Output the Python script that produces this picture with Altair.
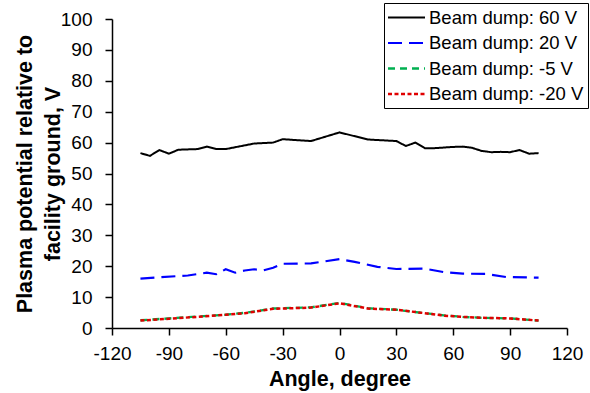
import altair as alt
import pandas as pd

series_names = ["Beam dump: 60 V", "Beam dump: 20 V", "Beam dump: -5 V", "Beam dump: -20 V"]

ang_60 = [-105, -100, -95, -90, -85, -75, -70, -65, -60, -50, -45, -35, -30, -15, 0, 15, 30, 35, 40, 45, 50, 60, 65, 70, 75, 80, 85, 90, 95, 100, 105]
v_60 = [56.6, 55.7, 57.6, 56.4, 57.7, 57.9, 58.7, 57.9, 57.9, 59.1, 59.7, 60.0, 61.1, 60.5, 63.3, 61.0, 60.5, 58.9, 60.0, 58.2, 58.2, 58.6, 58.7, 58.3, 57.3, 56.9, 57.0, 56.9, 57.6, 56.4, 56.6]

ang_20 = [-105, -95, -80, -70, -65, -60, -55, -50, -45, -40, -35, -30, -15, 0, 8, 20, 30, 45, 55, 65, 77, 88, 105]
v_20 = [16.0, 16.4, 17.0, 17.9, 17.4, 19.0, 17.9, 18.6, 19.0, 18.7, 19.5, 20.8, 20.9, 22.3, 21.4, 19.8, 19.1, 19.2, 18.1, 17.6, 17.5, 16.5, 16.3]

ang_m5 = [-105, -90, -75, -60, -50, -35, -15, 0, 15, 30, 45, 55, 65, 75, 90, 105]
v_m5 = [2.5, 3.1, 3.7, 4.3, 4.9, 6.3, 6.7, 8.1, 6.4, 5.9, 4.8, 4.1, 3.6, 3.3, 3.1, 2.4]

ang_m20 = [-105, -90, -75, -60, -50, -35, -15, 0, 15, 30, 45, 55, 65, 75, 90, 105]
v_m20 = [2.4, 3.0, 3.6, 4.3, 4.8, 6.2, 6.6, 8.0, 6.3, 5.9, 4.8, 4.0, 3.6, 3.3, 3.1, 2.4]

x_ticks = [-120, -90, -60, -30, 0, 30, 60, 90, 120]
y_ticks = [0, 10, 20, 30, 40, 50, 60, 70, 80, 90, 100]

rows = []
for name, angs, vals in zip(series_names, [ang_60, ang_20, ang_m5, ang_m20], [v_60, v_20, v_m5, v_m20]):
    for a, v in zip(angs, vals):
        rows.append({"series": name, "angle": a, "V": v})
df = pd.DataFrame(rows)

colors = ["#000000", "#0000FF", "#00B050", "#E00000"]
dashes = [[1, 0], [14, 7], [7, 5], [4, 2.5]]
widths = [2, 2.5, 2.5, 2.5]

font = "Liberation Sans"

chart = alt.Chart(df).mark_line().encode(
    x=alt.X("angle:Q",
            scale=alt.Scale(domain=[-120, 120], nice=False, zero=False),
            axis=alt.Axis(values=x_ticks, title="Angle, degree", labelExpr="'' + datum.value",
                          labelFlush=False, labelOverlap=False,
                          grid=False, tickSize=7, labelPadding=9, titlePadding=5)),
    y=alt.Y("V:Q",
            scale=alt.Scale(domain=[0, 100], nice=False),
            axis=alt.Axis(values=y_ticks,
                          title=["Plasma potential relative to", "facility ground, V"],
                          labelFlush=False, labelOverlap=False,
                          grid=False, tickSize=7, labelPadding=13, titlePadding=-4,
                          titleLineHeight=28)),
    color=alt.Color("series:N", scale=alt.Scale(domain=series_names, range=colors),
                    sort=series_names,
                    legend=alt.Legend(title=None, orient="none", legendX=272, legendY=-16,
                                      symbolType="M-2,0H2", symbolSize=342, symbolStrokeWidth=2.2,
                                      symbolOffset=8, labelOffset=12,
                                      labelFontSize=18.5, labelFont=font, labelColor="#000000",
                                      strokeColor="#000000", padding=4, rowPadding=5.5,
                                      labelLimit=300)),
    strokeDash=alt.StrokeDash("series:N", scale=alt.Scale(domain=series_names, range=dashes),
                              sort=series_names, legend=None),
    strokeWidth=alt.StrokeWidth("series:N", scale=alt.Scale(domain=series_names, range=widths),
                                sort=series_names, legend=None),
    order=alt.Order("angle:Q"),
).properties(
    width=455, height=309,
    autosize=alt.AutoSizeParams(type="none"),
    padding={"left": 112, "top": 19, "right": 23, "bottom": 65},
).configure_axis(
    domainColor="#000000", domainWidth=1.5, tickColor="#000000", tickWidth=1.5,
    labelFont=font, labelFontSize=19, labelColor="#000000",
    titleFont=font, titleFontSize=21.5, titleFontWeight="bold", titleColor="#000000",
).configure_view(stroke=None)

chart.save("out.html", embed_options={"renderer": "svg", "actions": False})
